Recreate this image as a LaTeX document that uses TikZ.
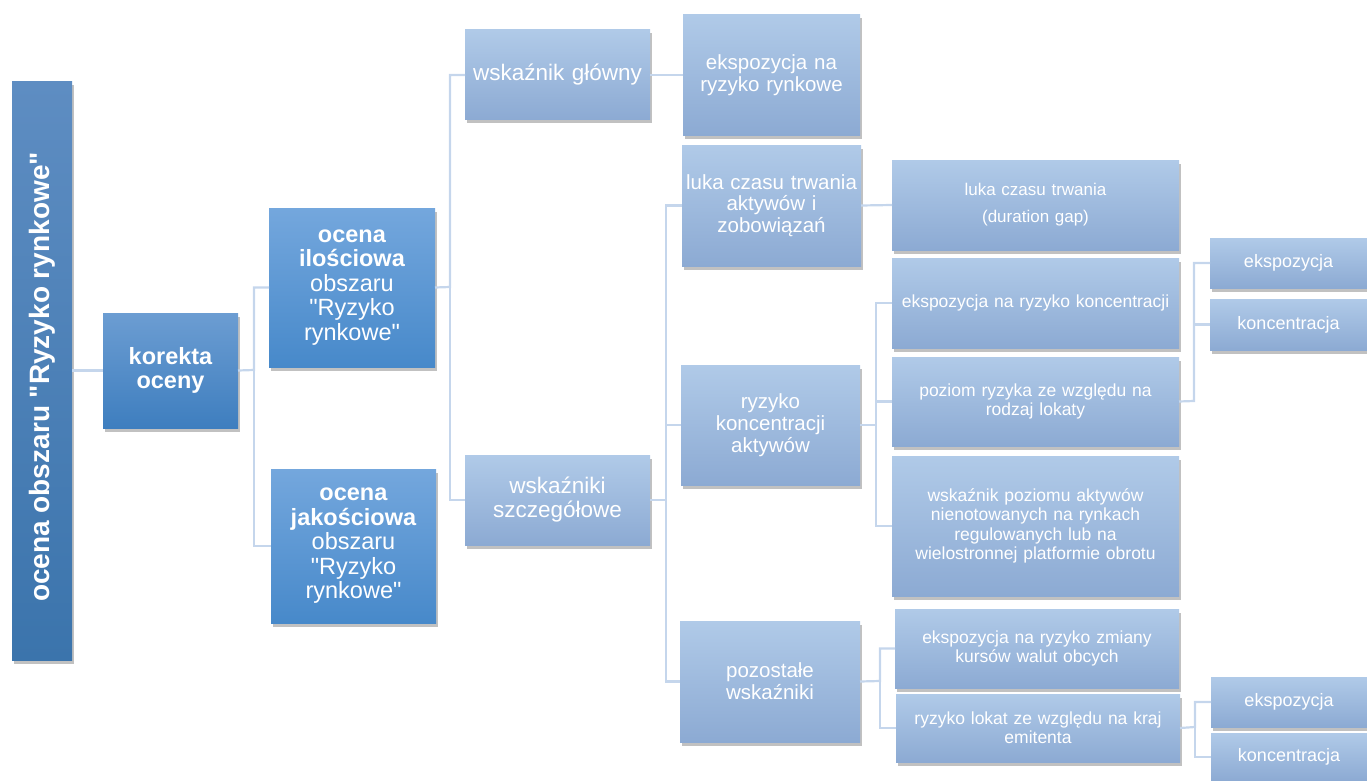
\documentclass[tikz,border=0pt]{standalone}
\usepackage{fontspec}
\setmainfont{Liberation Sans}[Ligatures=TeXOff]
\usetikzlibrary{shadows}
\definecolor{rootT}{HTML}{5E8DC2}
\definecolor{rootB}{HTML}{3B74AC}
\definecolor{korT}{HTML}{6C9DD2}
\definecolor{korB}{HTML}{3E7EBF}
\definecolor{ocT}{HTML}{74A7DD}
\definecolor{ocB}{HTML}{4789CA}
\definecolor{lightT}{HTML}{B0CAE8}
\definecolor{lightB}{HTML}{8CAAD3}
\definecolor{connc}{HTML}{C5D6EC}
\newcommand{\fs}[2]{\fontsize{#1}{#2}\selectfont}
\newcommand{\qq}{"}
\tikzset{
  base/.style={inner sep=2pt, outer sep=0pt, align=center, text=white, anchor=north west,
    drop shadow={shadow xshift=2pt, shadow yshift=-3.5pt, opacity=0.35, fill=black!70}},
  darkbox/.style={base, top color=rootT, bottom color=rootB},
  korbox/.style={base, top color=korT, bottom color=korB},
  ocbox/.style={base, top color=ocT, bottom color=ocB},
  lbox/.style={base, top color=lightT, bottom color=lightB},
  conn/.style={draw=connc, line width=2.2pt},
  f235/.style={font=\fs{23.5}{24.5}},
  f225/.style={font=\fs{22.5}{24}},
  f205/.style={font=\fs{20.5}{21.7}},
  f175/.style={font=\fs{17.5}{19.3}},
  f18/.style={font=\fs{18}{20}}
}
\newcommand{\bx}[7]{% style, name, x1, y1, x2, y2, text
  \pgfmathsetmacro{\bw}{#5-#3}\pgfmathsetmacro{\bh}{#6-#4}\pgfmathsetmacro{\tw}{#5-#3-4}
  \node[#1, minimum width=\bw pt, minimum height=\bh pt, text width=\tw pt] (#2) at (#3,#4) {#7};}
\begin{document}
\begin{tikzpicture}[x=1pt,y=-1pt]
\useasboundingbox (0,0) rectangle (1367,781);
\coordinate (k1) at (254,370);
\coordinate (o1) at (450,287);
\coordinate (w1) at (666,500);
\coordinate (r1) at (876,425);
\coordinate (p1) at (1194,401);
\coordinate (z1) at (880,681);
\coordinate (l1) at (1195,727);
% boxes
\node[darkbox, anchor=center, minimum width=60pt, minimum height=578pt] (root) at (42,371) {};
\node[rotate=90, text=white, font=\bfseries\fs{28}{30}] (roottxt) at (42,377) {ocena obszaru \qq Ryzyko rynkowe\qq};
\bx{korbox,f235}{kor}{103}{313}{238}{428}{\bfseries korekta\\oceny}
\bx{ocbox,f235}{ilo}{269}{208}{435}{367}{\textbf{ocena}\\\textbf{ilościowa}\\obszaru\\\qq Ryzyko\\rynkowe\qq}
\bx{ocbox,f235}{jak}{271}{469}{436}{623}{\textbf{ocena}\\\textbf{jakościowa}\\obszaru\\\qq Ryzyko\\rynkowe\qq}
\bx{lbox,f225}{wg}{465}{30}{650}{120}{wskaźnik główny}
\bx{lbox,f225}{ws}{465}{455}{650}{545}{wskaźniki\\szczegółowe}
\bx{lbox,f205}{eks}{683}{15}{860}{135}{ekspozycja na\\ryzyko rynkowe}
\bx{lbox,f205}{luka}{682}{145}{861}{266}{luka czasu trwania\\aktywów i\\zobowiązań}
\bx{lbox,f205}{rk}{681}{365}{860}{485}{ryzyko\\koncentracji\\aktywów}
\bx{lbox,f205}{poz}{680}{621}{860}{742}{pozostałe\\wskaźniki}
\bx{lbox,font=\fs{17}{19}}{dg}{892}{160}{1179}{250}{luka czasu trwania\\[8pt](duration gap)}
\bx{lbox,f175}{ekk}{892}{258}{1179}{348}{ekspozycja\ na\ ryzyko\ koncentracji}
\bx{lbox,f175}{pr}{892}{357}{1179}{446}{poziom ryzyka ze względu na\\rodzaj lokaty}
\bx{lbox,f175}{wp}{892}{456}{1179}{596}{wskaźnik poziomu aktywów\\nienotowanych na rynkach\\regulowanych lub na\\wielostronnej platformie obrotu}
\bx{lbox,f175}{ez}{895}{609}{1179}{688}{ekspozycja na ryzyko zmiany\\kursów walut obcych}
\bx{lbox,f175}{rl}{896}{694}{1180}{762}{ryzyko lokat ze względu na kraj\\emitenta}
\bx{lbox,f18}{e1}{1210}{238}{1367}{288}{ekspozycja}
\bx{lbox,f18}{c1}{1210}{299}{1367}{350}{koncentracja}
\bx{lbox,f18}{e2}{1211}{677}{1367}{727}{ekspozycja}
\bx{lbox,f18}{c2}{1211}{733}{1367}{781}{koncentracja}
% connectors
\draw[conn] (root.east |- kor.west) -- (kor.west);
\draw[conn] (kor.east) -- (k1) |- (ilo.west);
\draw[conn] (k1) |- (jak.west);
\draw[conn] (ilo.east) -- (o1) |- (wg.west);
\draw[conn] (o1) |- (ws.west);
\draw[conn] (wg.east) -- (eks.west);
\draw[conn] (ws.east) -- (w1) |- (luka.west);
\draw[conn] (w1) |- (rk.west);
\draw[conn] (w1) |- (poz.west);
\draw[conn] (luka.east) -- (dg.west);
\draw[conn] (rk.east) -- (r1) |- (ekk.west);
\draw[conn] (r1) |- (pr.west);
\draw[conn] (r1) |- (wp.west);
\draw[conn] (pr.east) -- (p1) |- (e1.west);
\draw[conn] (p1) |- (c1.west);
\draw[conn] (poz.east) -- (z1) |- (ez.west);
\draw[conn] (z1) |- (rl.west);
\draw[conn] (rl.east) -- (l1) |- (e2.west);
\draw[conn] (l1) |- (c2.west);
\end{tikzpicture}
\end{document}
